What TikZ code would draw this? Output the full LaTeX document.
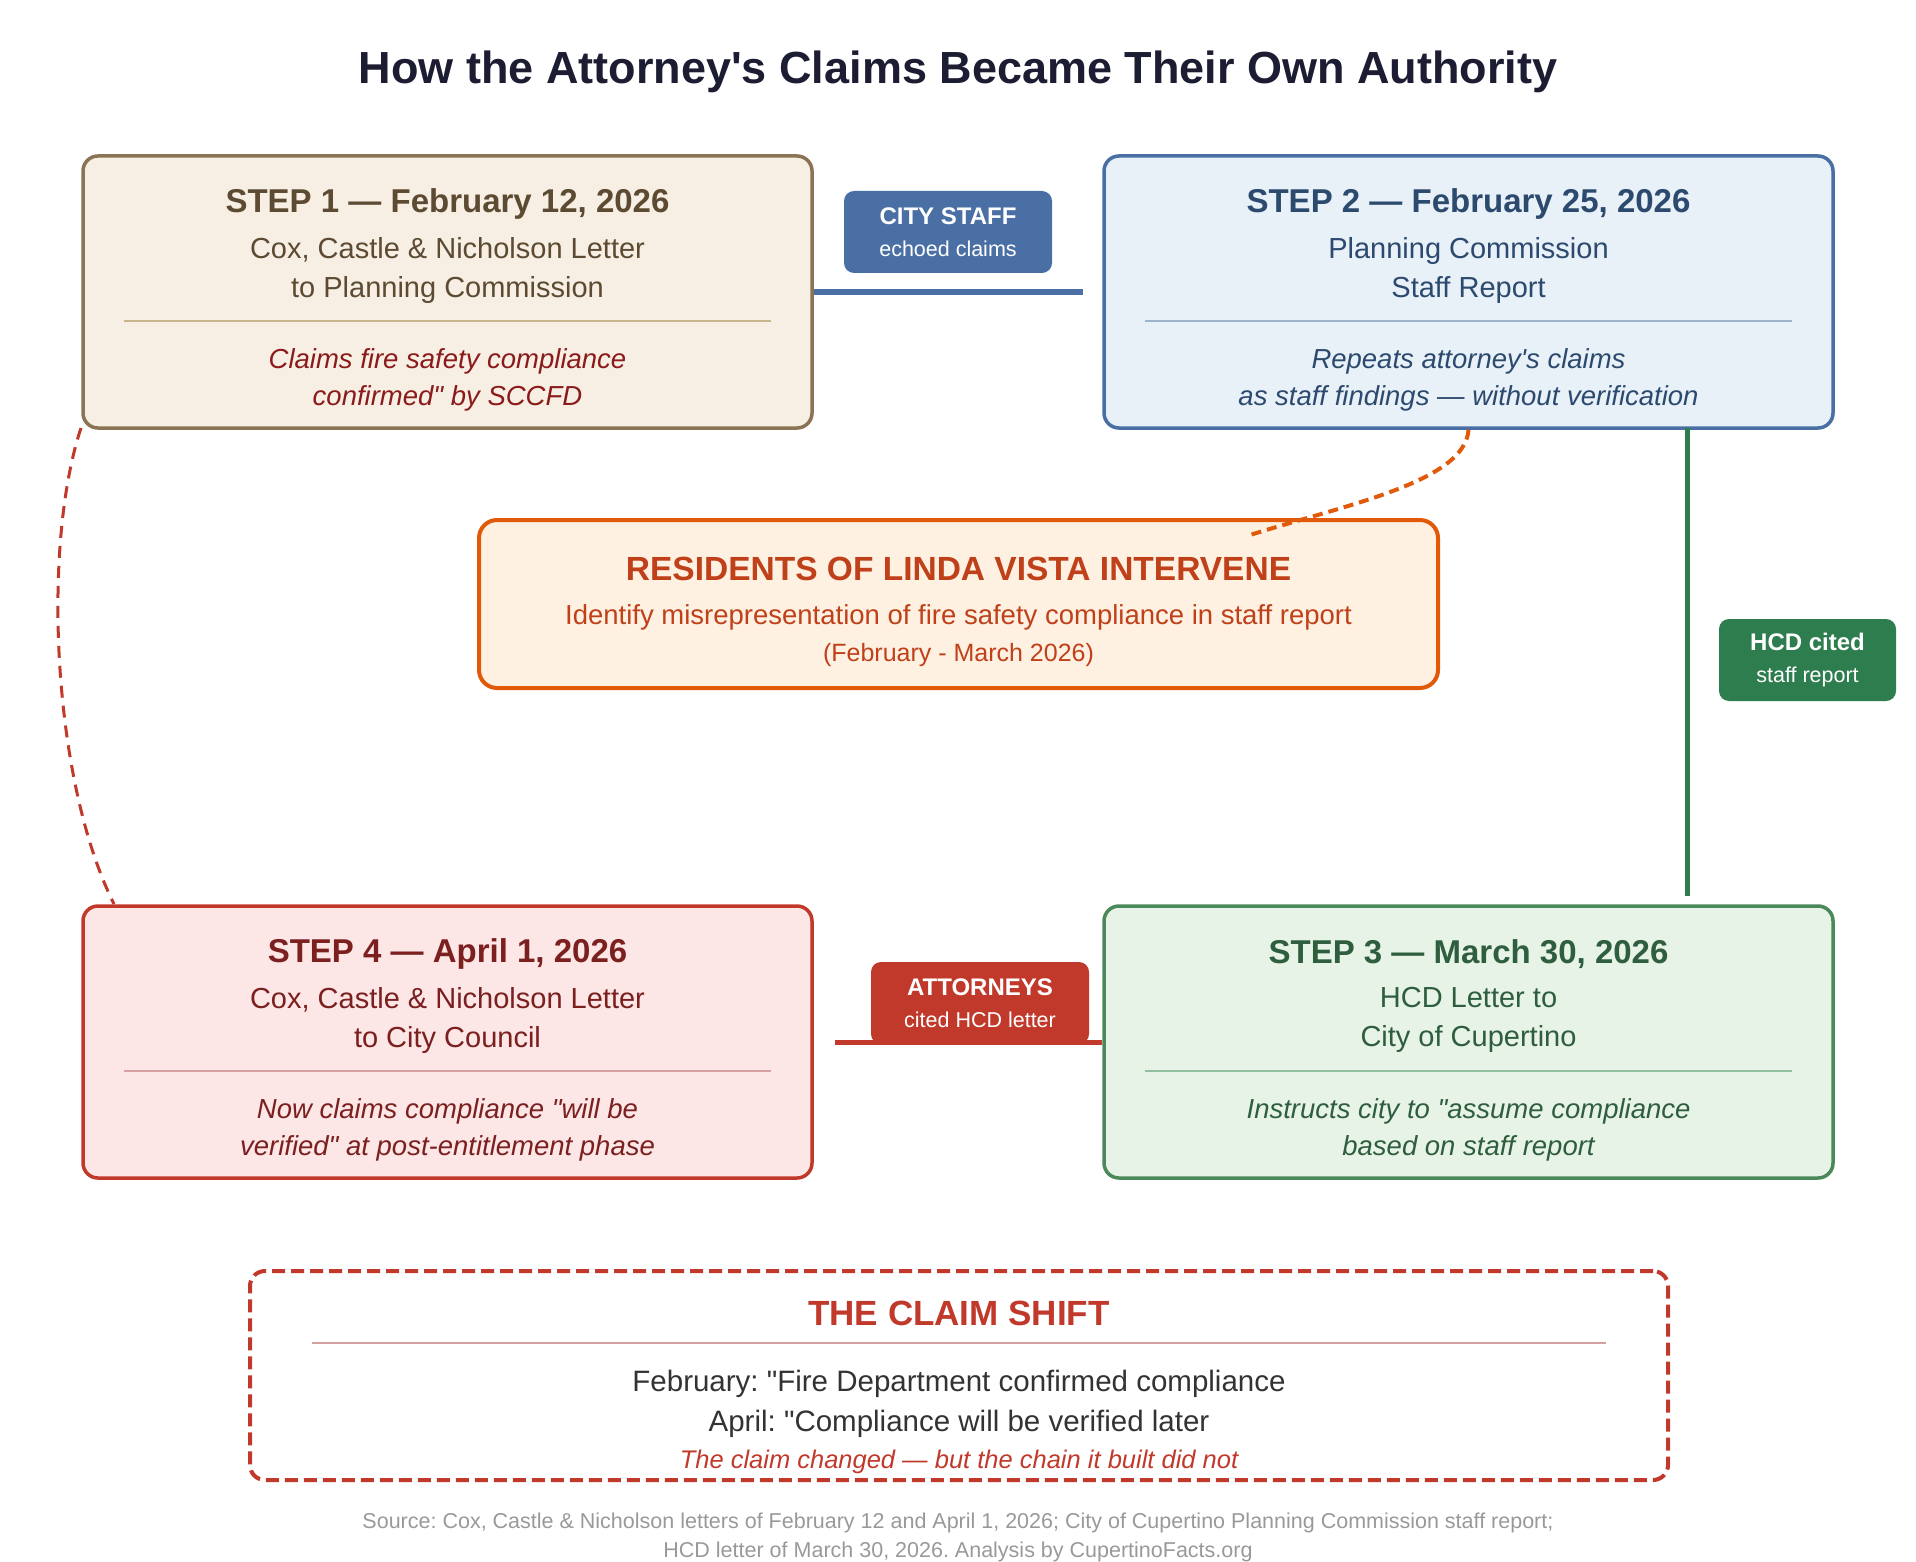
\documentclass[tikz,border=0pt]{standalone}
\usepackage{fontspec}
\setmainfont{Liberation Sans}[Ligatures=TeXOff]
\usetikzlibrary{positioning}
\frenchspacing

\definecolor{titleink}{HTML}{1C1C32}
\definecolor{brownline}{HTML}{8B7355}
\definecolor{brownfill}{HTML}{F7EFE3}
\definecolor{brownink}{HTML}{5C4A32}
\definecolor{brownsep}{HTML}{C9B48C}
\definecolor{noteink}{HTML}{8B1A1A}
\definecolor{blueline}{HTML}{4A6FA5}
\definecolor{bluefill}{HTML}{E8F0F8}
\definecolor{blueink}{HTML}{2C4A6E}
\definecolor{bluesep}{HTML}{9DB5CC}
\definecolor{orangeline}{HTML}{E05A0A}
\definecolor{orangefill}{HTML}{FEF1E1}
\definecolor{orangeink}{HTML}{C0401A}
\definecolor{redline}{HTML}{C0392B}
\definecolor{redfill}{HTML}{FCE6E6}
\definecolor{redink}{HTML}{7B1F1F}
\definecolor{redsep}{HTML}{D4A0A0}
\definecolor{greenline}{HTML}{4A8A5A}
\definecolor{greenfill}{HTML}{E8F3E8}
\definecolor{greenink}{HTML}{2E5E3E}
\definecolor{greensep}{HTML}{90C0A0}
\definecolor{greentag}{HTML}{2E7D4E}
\definecolor{shiftink}{HTML}{333333}
\definecolor{sourceink}{HTML}{999999}

\newcommand{\fsz}[2]{\fontsize{#1}{#2}\selectfont}
\newcommand{\tagfont}{\fsz{24}{32}\bfseries}

\begin{document}
\frenchspacing
\begin{tikzpicture}[x=1pt, y=-1pt,
    stepbox/.style={draw, rounded corners=15pt, line width=3.5pt, minimum width=729pt, minimum height=272pt},
    steptitle/.style={font=\fsz{33}{39}\bfseries},
    stepbody/.style={font=\fsz{29}{39}, align=center},
    stepnote/.style={font=\fsz{27.5}{37}\itshape, align=center},
    sepline/.style={line width=2pt},
    tagbox/.style={rounded corners=10pt, text=white, align=center, font=\fsz{21.5}{32}, minimum height=82pt}]
  \useasboundingbox (0,0) rectangle (1916,1562);

  \node[font=\fsz{45}{52}\bfseries, text=titleink] (title) at (958,72) {How the Attorney's Claims Became Their Own Authority};

  % step 1
  \node[stepbox, draw=brownline, fill=brownfill] (s1) at (447.5,292) {};
  \node[steptitle, text=brownink] (s1t) at ([yshift=-50pt]s1.north) {STEP 1 — February 12, 2026};
  \node[stepbody, text=brownink] (s1b) at ([yshift=-116pt]s1.north) {Cox, Castle \& Nicholson Letter\\to Planning Commission};
  \draw[sepline, brownsep] ([xshift=43pt,yshift=-167pt]s1.north west) -- ([xshift=-43pt,yshift=-167pt]s1.north east);
  \node[stepnote, text=noteink] (s1n) at ([yshift=-226pt]s1.north) {Claims fire safety compliance\\confirmed" by SCCFD};

  % step 2
  \node[stepbox, draw=blueline, fill=bluefill] (s2) at (1468.5,292) {};
  \node[steptitle, text=blueink] (s2t) at ([yshift=-50pt]s2.north) {STEP 2 — February 25, 2026};
  \node[stepbody, text=blueink] (s2b) at ([yshift=-116pt]s2.north) {Planning Commission\\Staff Report};
  \draw[sepline, bluesep] ([xshift=43pt,yshift=-167pt]s2.north west) -- ([xshift=-43pt,yshift=-167pt]s2.north east);
  \node[stepnote, text=blueink] (s2n) at ([yshift=-226pt]s2.north) {Repeats attorney's claims\\as staff findings — without verification};

  % step 3
  \node[stepbox, draw=greenline, fill=greenfill] (s3) at (1468.5,1042) {};
  \node[steptitle, text=greenink] (s3t) at ([yshift=-50pt]s3.north) {STEP 3 — March 30, 2026};
  \node[stepbody, text=greenink] (s3b) at ([yshift=-116pt]s3.north) {HCD Letter to\\City of Cupertino};
  \draw[sepline, greensep] ([xshift=43pt,yshift=-167pt]s3.north west) -- ([xshift=-43pt,yshift=-167pt]s3.north east);
  \node[stepnote, text=greenink] (s3n) at ([yshift=-226pt]s3.north) {Instructs city to "assume compliance\\based on staff report};

  % step 4
  \node[stepbox, draw=redline, fill=redfill] (s4) at (447.5,1042) {};
  \node[steptitle, text=redink] (s4t) at ([yshift=-50pt]s4.north) {STEP 4 — April 1, 2026};
  \node[stepbody, text=redink] (s4b) at ([yshift=-116pt]s4.north) {Cox, Castle \& Nicholson Letter\\to City Council};
  \draw[sepline, redsep] ([xshift=43pt,yshift=-167pt]s4.north west) -- ([xshift=-43pt,yshift=-167pt]s4.north east);
  \node[stepnote, text=redink] (s4n) at ([yshift=-226pt]s4.north) {Now claims compliance "will be\\verified" at post-entitlement phase};

  % residents
  \node[draw=orangeline, fill=orangefill, rounded corners=18pt, line width=4pt, minimum width=959pt, minimum height=168pt] (res) at (958.5,604) {};
  \node[font=\fsz{33.5}{38}\bfseries, text=orangeink] (rest) at ([yshift=-51pt]res.north) {RESIDENTS OF LINDA VISTA INTERVENE};
  \node[font=\fsz{27.5}{32}, text=orangeink] (resa) at ([yshift=-99pt]res.north) {Identify misrepresentation of fire safety compliance in staff report};
  \node[font=\fsz{25}{30}, text=orangeink] (resb) at ([yshift=-137pt]res.north) {(February - March 2026)};

  % connectors
  \coordinate (hcdtop) at (1687,428);
  \coordinate (hcdend) at (1687,896);
  \coordinate (resend) at (1250,535);
  \coordinate (s1foot) at (81,428);
  \coordinate (s4head) at (114,904);

  \draw[blueline, line width=5pt, shorten >=19pt] (s1.east) -- (s2.west);
  \draw[greentag, line width=5pt] (hcdtop) -- (hcdend);
  \draw[redline, line width=5pt, shorten >=21pt] (s3.west) -- (s4.east);
  \draw[redline, line width=3pt, dash pattern=on 12pt off 8pt] (s1foot) .. controls (42,545) and (52,780) .. (s4head);
  \draw[orangeline, line width=4pt, dash pattern=on 10pt off 6pt] (s2.south) .. controls (1465,482) and (1345,505) .. (resend);

  % tags
  \node[tagbox, fill=blueline, minimum width=208pt] (stafftag) at (948,232) {{\tagfont CITY STAFF}\\echoed claims};
  \node[tagbox, fill=greentag, minimum width=177pt] (hcdtag) at (1807.5,660) {{\tagfont HCD cited}\\staff report};
  \node[tagbox, fill=redline, minimum width=218pt] (atttag) at (980,1003) {{\tagfont ATTORNEYS}\\cited HCD letter};

  % the claim shift
  \node[draw=redline, rounded corners=15pt, line width=4pt, dash pattern=on 13pt off 6pt, minimum width=1418pt, minimum height=209pt] (shift) at (959,1375.5) {};
  \node[font=\fsz{35}{40}\bfseries, text=redline] (shiftt) at ([yshift=-44pt]shift.north) {THE CLAIM SHIFT};
  \draw[sepline, redsep] ([xshift=64pt,yshift=-74pt]shift.north west) -- ([xshift=-64pt,yshift=-74pt]shift.north east);
  \node[font=\fsz{29.5}{40}, text=shiftink, align=center] (shiftb) at ([yshift=-135pt]shift.north) {February: "Fire Department confirmed compliance\\April: "Compliance will be verified later};
  \node[font=\fsz{25.5}{30}\itshape, text=redline] (shiftn) at ([yshift=-193pt]shift.north) {The claim changed — but the chain it built did not};

  \node[font=\fsz{21.5}{29}, text=sourceink, align=center] (source) at (958,1537) {Source: Cox, Castle \& Nicholson letters of February 12 and April 1, 2026; City of Cupertino Planning Commission staff report;\\HCD letter of March 30, 2026. Analysis by CupertinoFacts.org};
\end{tikzpicture}
\end{document}
